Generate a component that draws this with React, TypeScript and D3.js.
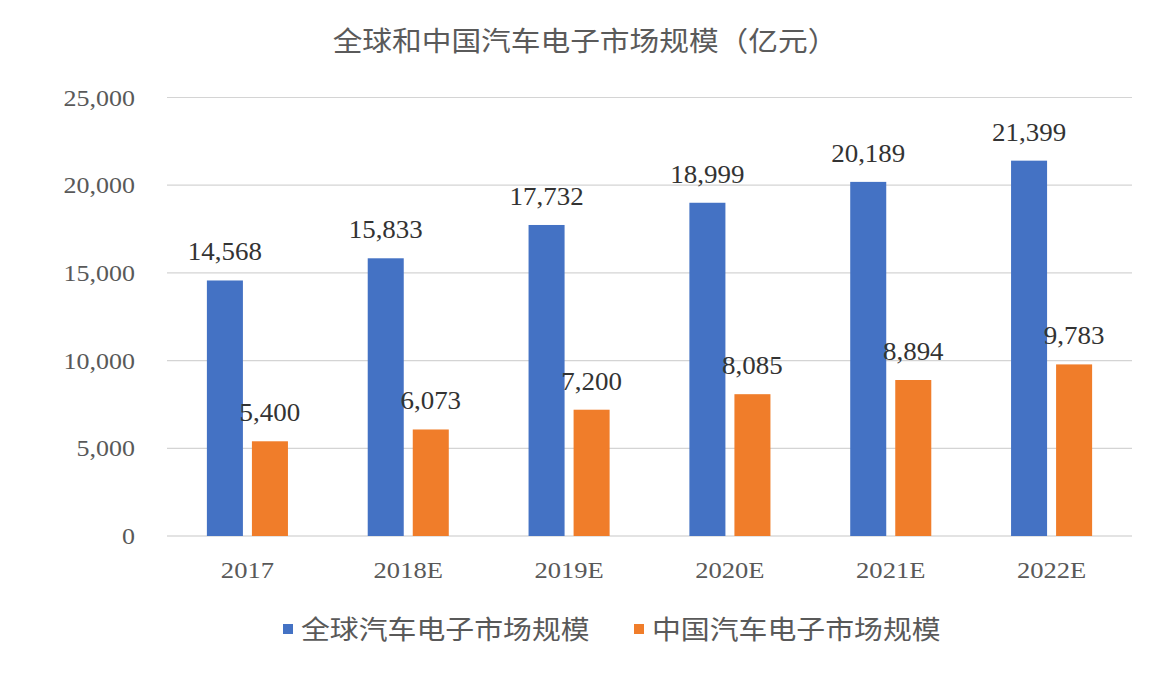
import React from "react";
import * as d3 from "d3";

const categories = ["2017", "2018E", "2019E", "2020E", "2021E", "2022E"];
const globalValues = [14568, 15833, 17732, 18999, 20189, 21399];
const chinaValues = [5400, 6073, 7200, 8085, 8894, 9783];
const seriesNames = ["全球汽车电子市场规模", "中国汽车电子市场规模"];
const yTicks = [0, 5000, 10000, 15000, 20000, 25000];
const title = "全球和中国汽车电子市场规模（亿元）";

const W = 1154;
const H = 682;
const plot = { left: 167, right: 1132, top: 97.5, bottom: 536 };
const colors = ["#4472C4", "#F07D2A"];
const serif = "'Liberation Serif', 'Times New Roman', serif";
const sans = "'Noto Sans CJK SC', 'Noto Sans', sans-serif";

export default function App() {
  const x0 = d3.scaleBand<string>().domain(categories).range([plot.left, plot.right]).paddingInner(0.496).paddingOuter(0.248);
  const x1 = d3.scaleBand<number>().domain([0, 1]).range([0, x0.bandwidth()]).paddingInner(0.2);
  const y = d3.scaleLinear().domain([0, 25000]).range([plot.bottom, plot.top]);
  const fmt = d3.format(",");
  const series = [globalValues, chinaValues];
  const sx = 1.1;

  const stretched = (key: string, tx: number, ty: number, text: string, size: number, fill: string, anchor: string, family: string, scale = sx) => (
    <text key={key} transform={`translate(${tx},${ty}) scale(${scale},1)`} fontSize={size} fill={fill} textAnchor={anchor} fontFamily={family}>
      {text}
    </text>
  );

  return (
    <svg width={W} height={H} style={{ position: "absolute", left: 0, top: 0, background: "#fff" }}>
      <rect x={0} y={0} width={W} height={H} fill="#fff" />
      {stretched("title", 585, 51, title, 27.5, "#5a5a5a", "middle", sans, 1.08)}
      {yTicks.map((t) => (
        <g key={t}>
          <line x1={plot.left} x2={plot.right} y1={y(t)} y2={y(t)} stroke={t === 0 ? "#c8c8c8" : "#d4d4d4"} strokeWidth={1.2} />
          {stretched("yt" + t, 135, y(t) + 8, fmt(t), 23, "#595959", "end", serif, 1.13)}
        </g>
      ))}
      {categories.map((c, i) => (
        <g key={c}>
          {series.map((vals, s) => {
            const bx = (x0(c) as number) + (x1(s) as number);
            const bw = x1.bandwidth();
            return (
              <g key={s}>
                <rect x={bx} y={y(vals[i])} width={bw} height={y(0) - y(vals[i])} fill={colors[s]} />
                {stretched("dl" + s, bx + bw / 2, y(vals[i]) - 20, fmt(vals[i]), 24.5, "#333333", "middle", serif)}
              </g>
            );
          })}
          {stretched("xl", (x0(c) as number) + x0.bandwidth() / 2, 578, c, 23.5, "#595959", "middle", serif, 1.13)}
        </g>
      ))}
      {seriesNames.map((n, s) => {
        const lx = s === 0 ? 283 : 634;
        return (
          <g key={n}>
            <rect x={lx} y={624} width={10} height={10} fill={colors[s]} />
            {stretched("lg" + s, lx + 18, 639, n, 26.5, "#595959", "start", sans, 1.09)}
          </g>
        );
      })}
    </svg>
  );
}
